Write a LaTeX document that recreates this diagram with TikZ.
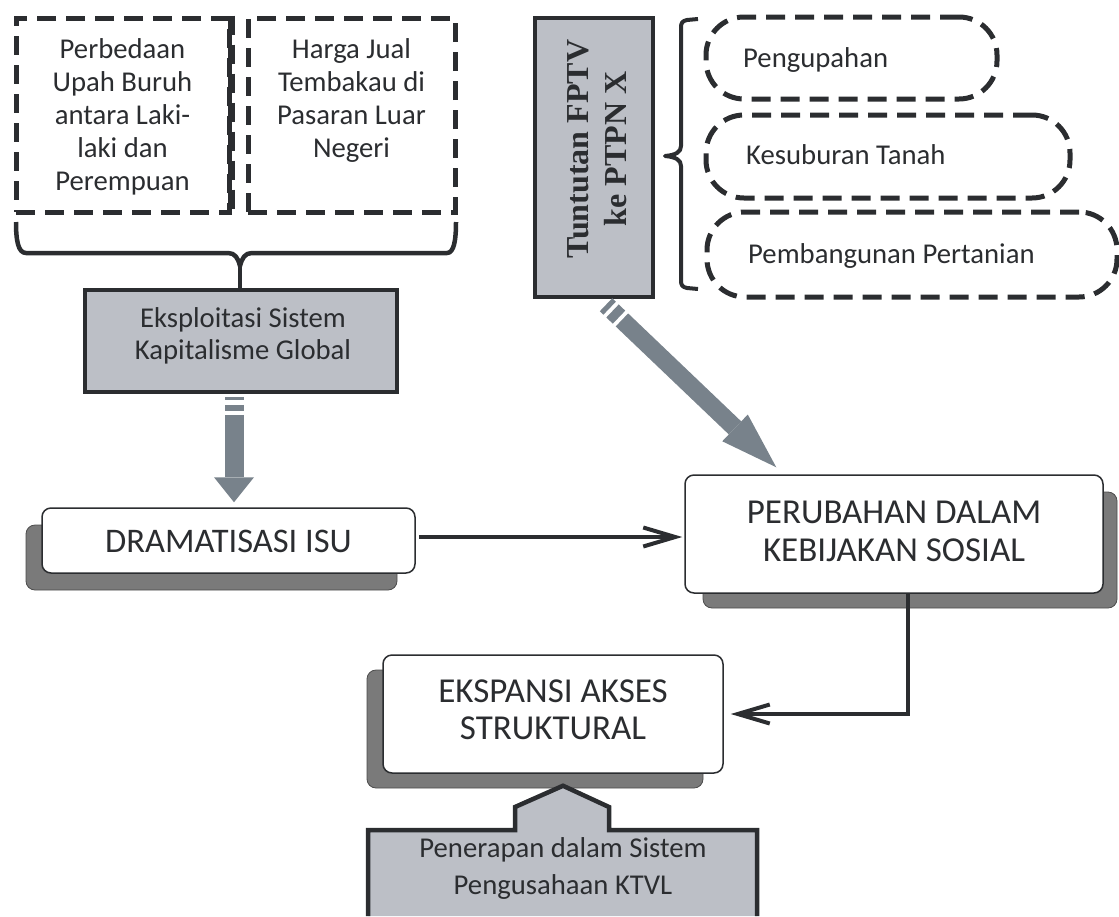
\documentclass[tikz,border=0pt]{standalone}
\usepackage{fontspec}
\setmainfont{Carlito}
\newfontfamily\tnrfont{Liberation Serif}
\usetikzlibrary{arrows.meta,calc}
\definecolor{ink}{HTML}{2B2D30}
\definecolor{boxgray}{HTML}{BCBFC6}
\definecolor{arrgray}{HTML}{78828B}
\definecolor{shadowgray}{HTML}{7A7A7A}
\newcommand{\fsmall}{\fontsize{28.7}{33}\selectfont}
\newcommand{\fbig}{\fontsize{35}{38}\selectfont}
\begin{document}
\begin{tikzpicture}[x=1pt,y=-1pt,
  txt/.style={text=ink, inner sep=0pt, align=center},
  dashbox/.style={draw=ink, line width=5pt, dash pattern=on 19pt off 10pt, inner sep=0pt},
  dashpill/.style={dashbox, rounded corners=38pt},
  graybox/.style={draw=ink, fill=boxgray, line width=3.5pt, inner sep=0pt},
  whitebox/.style={draw=ink, fill=white, line width=1.5pt, rounded corners=9pt, inner sep=0pt},
  shadowbox/.style={draw=black!70, fill=shadowgray, line width=0.8pt, rounded corners=9pt, inner sep=0pt},
  blkarrow/.style={draw=ink, line width=4pt, -{Straight Barb[length=32pt,width=19pt]}},
  bracestyle/.style={draw=ink, line width=4.5pt, line join=round}
]
\useasboundingbox (0,0) rectangle (1119,916);

% ---- top-left dashed boxes
\node[dashbox, minimum width=213pt, minimum height=194pt] (b1) at (122.5,115) {};
\draw[ink, line width=7pt, dash pattern=on 19pt off 10pt] (b1.north east) -- (b1.south east);
\node[dashbox, minimum width=207pt, minimum height=194pt] (b2) at (351.5,115) {};
\node[txt, font=\fsmall, anchor=north] (t1) at (122.5,38) {Perbedaan\\Upah Buruh\\antara Laki-\\laki dan\\Perempuan};
\node[txt, font=\fsmall, anchor=north] (t2) at (351.5,38) {Harga Jual\\Tembakau di\\Pasaran Luar\\Negeri};

% ---- brace under the boxes
\draw[bracestyle] (16,222) .. controls (16,240) and (18,253) .. (26,253) -- (228,253)
  .. controls (235,253) and (238,258) .. (240,266)
  .. controls (242,258) and (245,253) .. (252,253) -- (447,253)
  .. controls (454,253) and (456,240) .. (456,222);
\coordinate (btip) at (240,266);

% ---- Eksploitasi box
\node[graybox, minimum width=312pt, minimum height=102pt] (expl) at (241,341) {};
\node[txt, font=\fontsize{28.7}{32}\selectfont] (explt) at (243,336) {Eksploitasi Sistem\\Kapitalisme Global};
\draw[ink, line width=4.5pt] (btip) -- (btip |- expl.north);

% ---- Tuntutan box
\node[graybox, minimum width=118pt, minimum height=279pt] (tunt) at (594,157.5) {};
\node[txt, font=\tnrfont\bfseries\fontsize{32}{38}\selectfont, rotate=90] (tuntt) at (597,149) {Tuntutan FPTV\\ke PTPN X};

% ---- right brace
\draw[bracestyle, line width=4pt] (698,19) -- (687,20) .. controls (682,21) and (681,23) .. (681,28) -- (681,146)
  .. controls (681,152) and (676,155) .. (665,156)
  .. controls (676,157) and (681,160) .. (681,166) -- (681,280)
  .. controls (681,285) and (682,287) .. (687,288) -- (698,289);

% ---- dashed pills
\node[dashpill, minimum width=291pt, minimum height=82pt] (e1) at (851.5,58) {};
\node[dashpill, minimum width=364pt, minimum height=83pt] (e2) at (888,156.5) {};
\node[dashpill, minimum width=410pt, minimum height=85pt] (e3) at (912,254.5) {};
\node[txt, font=\fsmall, anchor=base west] (e1t) at (743,67) {Pengupahan};
\node[txt, font=\fsmall, anchor=base west] (e2t) at (746,164) {Kesuburan Tanah};
\node[txt, font=\fsmall, anchor=base west] (e3t) at (748,263) {Pembangunan Pertanian};

% ---- shadows
\node[shadowbox, minimum width=371pt, minimum height=65pt] (drsh) at (211.5,557.5) {};
\node[shadowbox, minimum width=414pt, minimum height=116pt] (pesh) at (910,550) {};
\node[shadowbox, minimum width=336pt, minimum height=118pt] (eksh) at (535,729) {};

% ---- white boxes
\node[whitebox, minimum width=373pt, minimum height=65pt] (drama) at (228.5,540.5) {};
\node[txt, font=\fontsize{34.5}{38}\selectfont] (dramat) at (228.5,541) {DRAMATISASI ISU};
\node[whitebox, minimum width=418pt, minimum height=118pt] (perub) at (894,534) {};
\node[txt, font=\fbig] (perubt) at (894,531) {PERUBAHAN DALAM\\KEBIJAKAN SOSIAL};
\node[whitebox, minimum width=340pt, minimum height=118pt] (eksp) at (553,714) {};
\node[txt, font=\fontsize{35}{36.5}\selectfont] (ekspt) at (553,710) {EKSPANSI AKSES\\STRUKTURAL};

% ---- gray fat arrows
\coordinate (v1) at ($(expl.south)+(-7,3)$);
\coordinate (v2) at ($(expl.south |- drama.north)+(-7,-5)$);
\draw[arrgray, line width=19pt, dash pattern=on 3pt off 5pt on 6pt off 4pt on 3000pt off 1pt,
  -{Triangle[length=25pt,width=40pt,line width=0pt]}] (v1) -- (v2);
\coordinate (d1) at ($(tunt.south)+(12,6)$);
\coordinate (d2) at ($(perub.north west)+(92,-7)$);
\draw[arrgray, line width=18pt, dash pattern=on 5pt off 4pt on 9pt off 4pt on 3000pt off 1pt,
  -{Triangle[length=57pt,width=37pt,line width=0pt]}] (d1) -- (d2);

% ---- black connectors
\coordinate (h1) at ($(drama.east)+(3,-3.5)$);
\draw[blkarrow] (h1) -- ($(h1 -| perub.west)+(-2,0)$);
\coordinate (k1) at ($(perub.south)+(14,0)$);
\draw[blkarrow] (k1) |- ($(eksp.east)+(7,0)$);

% ---- bottom house shape
\coordinate (hp) at ($(eksp.south)+(10,12)$);
\fill[boxgray] (368,916) -- (368,830) -- (515,830) -- (515,807) -- (hp) -- (609,807) -- (609,830) -- (757,830) -- (757,916) -- cycle;
\draw[ink, line width=4.5pt, line join=miter] (368,916) -- (368,830) -- (515,830) -- (515,807) -- (hp) -- (609,807) -- (609,830) -- (757,830) -- (757,916);
\node[txt, font=\fontsize{28.7}{37}\selectfont] (pen) at (563,868) {Penerapan dalam Sistem\\Pengusahaan KTVL};
\end{tikzpicture}
\end{document}
